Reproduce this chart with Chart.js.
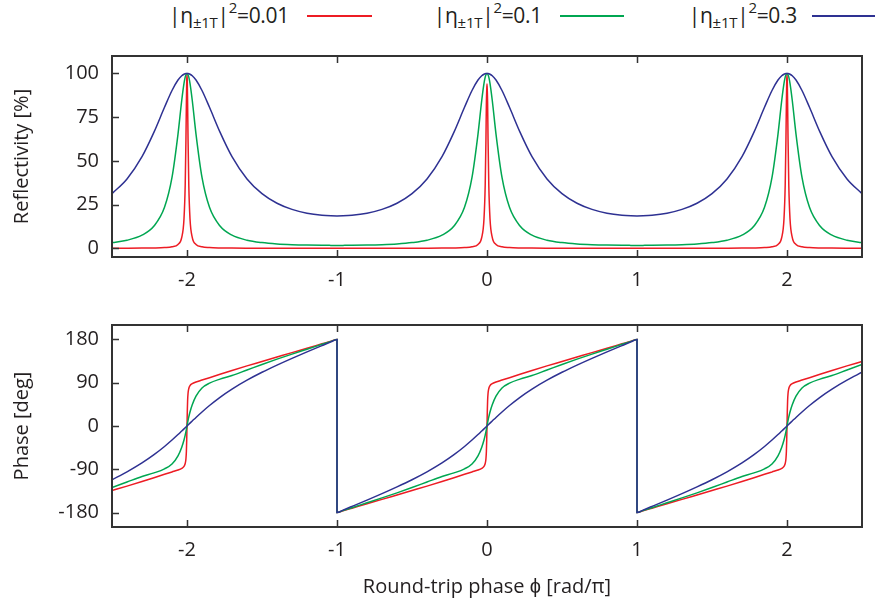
<!DOCTYPE html>
<html>
<head>
<meta charset="utf-8">
<script src="https://cdn.jsdelivr.net/npm/chart.js@4.4.1/dist/chart.umd.min.js"></script>
<style>
  body { margin: 0; background: #fff; }
  #wrap { position: relative; width: 875px; height: 607px; font-family: "Open Sans", sans-serif; color: #231f20; }
  #topChart { position: absolute; left: 0; top: 0; }
  #botChart { position: absolute; left: 0; top: 300px; }
  .lg { position: absolute; top: 0; font-size: 21px; line-height: 30px; white-space: nowrap; letter-spacing: -0.3px; }
  .lg sub { font-size: 15px; vertical-align: -5px; line-height: 0; }
  .lg sup { font-size: 15px; vertical-align: 10px; line-height: 0; }
  .ln { position: absolute; top: 15px; height: 1.5px; }
</style>
</head>
<body>
<div id="wrap">
  <div class="lg" style="right:586px">|η<sub>±1T</sub>|<sup>2</sup>=0.01</div>
  <div class="ln" style="left:307px;width:65px;background:#ed1c24"></div>
  <div class="lg" style="right:333px">|η<sub>±1T</sub>|<sup>2</sup>=0.1</div>
  <div class="ln" style="left:560px;width:64px;background:#00a651"></div>
  <div class="lg" style="right:78px">|η<sub>±1T</sub>|<sup>2</sup>=0.3</div>
  <div class="ln" style="left:812px;width:63px;background:#2e3192"></div>
  <canvas id="topChart" width="875" height="300"></canvas>
  <canvas id="botChart" width="875" height="307"></canvas>
</div>
<script>
// round-trip phase (rad/pi); the wrap points at -1 and 1 appear twice
const phi = [
  -2.5, -2.4, -2.3, -2.22, -2.15, -2.1, -2.06, -2.035, -2.02, -2.012, -2.007, -2.004, -2.002, -2,
  -1.998, -1.996, -1.993, -1.988, -1.98, -1.965, -1.94, -1.9, -1.85, -1.78, -1.7, -1.6, -1.5, -1.4, -1.3, -1.2, -1.1, -1.04, -1,
  -1,
  -0.96, -0.9, -0.8, -0.7, -0.6, -0.5, -0.4, -0.3, -0.22, -0.15, -0.1, -0.06, -0.035, -0.02, -0.012, -0.007, -0.004, -0.002, 0,
  0.002, 0.004, 0.007, 0.012, 0.02, 0.035, 0.06, 0.1, 0.15, 0.22, 0.3, 0.4, 0.5, 0.6, 0.7, 0.8, 0.9, 0.96, 1,
  1,
  1.04, 1.1, 1.2, 1.3, 1.4, 1.5, 1.6, 1.7, 1.78, 1.85, 1.9, 1.94, 1.965, 1.98, 1.988, 1.993, 1.996, 1.998, 2,
  2.002, 2.004, 2.007, 2.012, 2.02, 2.035, 2.06, 2.1, 2.15, 2.22, 2.3, 2.4, 2.5
];

const reflRed = [
  0.04, 0.06, 0.1, 0.17, 0.37, 0.81, 2.2, 6.2, 16.9, 36, 62.3, 83.5, 95.3, 100,
  95.3, 83.5, 62.3, 36, 16.9, 6.2, 2.2, 0.81, 0.37, 0.17, 0.1, 0.06, 0.04, 0.03, 0.03, 0.02, 0.02, 0.02, 0.02,
  0.02,
  0.02, 0.02, 0.02, 0.03, 0.03, 0.04, 0.06, 0.1, 0.17, 0.37, 0.81, 2.2, 6.2, 16.9, 36, 62.3, 83.5, 90, 94,
  90, 83.5, 62.3, 36, 16.9, 6.2, 2.2, 0.81, 0.37, 0.17, 0.1, 0.06, 0.04, 0.03, 0.03, 0.02, 0.02, 0.02, 0.02,
  0.02,
  0.02, 0.02, 0.02, 0.03, 0.03, 0.04, 0.06, 0.1, 0.17, 0.37, 0.81, 2.2, 6.2, 16.9, 36, 62.3, 83.5, 95.3, 100,
  95.3, 83.5, 62.3, 36, 16.9, 6.2, 2.2, 0.81, 0.37, 0.17, 0.1, 0.06, 0.04
];
const reflGreen = [
  3.23, 4.6, 7.48, 12.7, 23.4, 40.5, 65.3, 84.7, 94.4, 97.9, 99.28, 99.76, 99.94, 100,
  99.94, 99.76, 99.28, 97.9, 94.4, 84.7, 65.3, 40.5, 23.4, 12.7, 7.48, 4.6, 3.23, 2.48, 2.06, 1.81, 1.68, 1.65, 1.64,
  1.64,
  1.65, 1.68, 1.81, 2.06, 2.48, 3.23, 4.6, 7.48, 12.7, 23.4, 40.5, 65.3, 84.7, 94.4, 97.9, 99.28, 99.76, 99.94, 100,
  99.94, 99.76, 99.28, 97.9, 94.4, 84.7, 65.3, 40.5, 23.4, 12.7, 7.48, 4.6, 3.23, 2.48, 2.06, 1.81, 1.68, 1.65, 1.64,
  1.64,
  1.65, 1.68, 1.81, 2.06, 2.48, 3.23, 4.6, 7.48, 12.7, 23.4, 40.5, 65.3, 84.7, 94.4, 97.9, 99.28, 99.76, 99.94, 100,
  99.94, 99.76, 99.28, 97.9, 94.4, 84.7, 65.3, 40.5, 23.4, 12.7, 7.48, 4.6, 3.23
];
const reflBlue = [
  31.25, 39.68, 52.44, 66.45, 80.66, 90.28, 96.25, 98.69, 99.57, 99.84, 99.95, 99.98, 100, 100,
  100, 99.98, 99.95, 99.84, 99.57, 98.69, 96.25, 90.28, 80.66, 66.45, 52.44, 39.68, 31.25, 25.77, 22.26, 20.08, 18.9, 18.58, 18.52,
  18.52,
  18.58, 18.9, 20.08, 22.26, 25.77, 31.25, 39.68, 52.44, 66.45, 80.66, 90.28, 96.25, 98.69, 99.57, 99.84, 99.95, 99.98, 100, 100,
  100, 99.98, 99.95, 99.84, 99.57, 98.69, 96.25, 90.28, 80.66, 66.45, 52.44, 39.68, 31.25, 25.77, 22.26, 20.08, 18.9, 18.58, 18.52,
  18.52,
  18.58, 18.9, 20.08, 22.26, 25.77, 31.25, 39.68, 52.44, 66.45, 80.66, 90.28, 96.25, 98.69, 99.57, 99.84, 99.95, 99.98, 100, 100,
  100, 99.98, 99.95, 99.84, 99.57, 98.69, 96.25, 90.28, 80.66, 66.45, 52.44, 39.68, 31.25
];

const phaseRed = [
  -134.2, -125, -115.5, -107.5, -100.5, -95.5, -91.5, -88, -84, -78, -68, -52, -30, 0,
  30, 52, 68, 78, 84, 88, 91.5, 95.5, 100.5, 107.5, 115.5, 125, 134.2, 143.4, 152.6, 161.7, 170.9, 176.4, 180,
  -180,
  -176.4, -170.9, -161.7, -152.6, -143.4, -134.2, -125, -115.5, -107.5, -100.5, -95.5, -91.5, -88, -84, -78, -68, -52, -30, 0,
  30, 52, 68, 78, 84, 88, 91.5, 95.5, 100.5, 107.5, 115.5, 125, 134.2, 143.4, 152.6, 161.7, 170.9, 176.4, 180,
  -180,
  -176.4, -170.9, -161.7, -152.6, -143.4, -134.2, -125, -115.5, -107.5, -100.5, -95.5, -91.5, -88, -84, -78, -68, -52, -30, 0,
  30, 52, 68, 78, 84, 88, 91.5, 95.5, 100.5, 107.5, 115.5, 125, 134.2
];
const phaseGreen = [
  -128, -116.5, -105, -97.5, -89, -79, -62, -44, -29, -19, -12, -7, -4, 0,
  4, 7, 12, 19, 29, 44, 62, 79, 89, 97.5, 105, 116.5, 128, 139, 149.5, 159.7, 169.8, 176, 180,
  -180,
  -176, -169.8, -159.7, -149.5, -139, -128, -116.5, -105, -97.5, -89, -79, -62, -44, -29, -19, -12, -7, -4, 0,
  4, 7, 12, 19, 29, 44, 62, 79, 89, 97.5, 105, 116.5, 128, 139, 149.5, 159.7, 169.8, 176, 180,
  -180,
  -176, -169.8, -159.7, -149.5, -139, -128, -116.5, -105, -97.5, -89, -79, -62, -44, -29, -19, -12, -7, -4, 0,
  4, 7, 12, 19, 29, 44, 62, 79, 89, 97.5, 105, 116.5, 128
];
const phaseBlue = [
  -111.7, -95.3, -76.8, -59.7, -42.6, -29.2, -17.8, -10.4, -6, -3.6, -2.1, -1.2, -0.6, 0,
  0.6, 1.2, 2.1, 3.6, 6, 10.4, 17.8, 29.2, 42.6, 59.7, 76.8, 95.3, 111.7, 126.6, 140.6, 154, 167.1, 174.9, 180,
  -180,
  -174.9, -167.1, -154, -140.6, -126.6, -111.7, -95.3, -76.8, -59.7, -42.6, -29.2, -17.8, -10.4, -6, -3.6, -2.1, -1.2, -0.6, 0,
  0.6, 1.2, 2.1, 3.6, 6, 10.4, 17.8, 29.2, 42.6, 59.7, 76.8, 95.3, 111.7, 126.6, 140.6, 154, 167.1, 174.9, 180,
  -180,
  -174.9, -167.1, -154, -140.6, -126.6, -111.7, -95.3, -76.8, -59.7, -42.6, -29.2, -17.8, -10.4, -6, -3.6, -2.1, -1.2, -0.6, 0,
  0.6, 1.2, 2.1, 3.6, 6, 10.4, 17.8, 29.2, 42.6, 59.7, 76.8, 95.3, 111.7
];

const xTicks = [-2, -1, 0, 1, 2];
const reflTicks = [0, 25, 50, 75, 100];
const phaseTicks = [-180, -90, 0, 90, 180];

const RED = '#ed1c24', GREEN = '#00a651', BLUE = '#2e3192';
const TEXT = '#231f20';
const font = { family: '"Open Sans", sans-serif', size: 20 };

// gnuplot-like frame with inward tick marks
const framePlugin = {
  id: 'frame',
  afterDraw(chart) {
    const { ctx, chartArea: a, scales } = chart;
    ctx.save();
    ctx.strokeStyle = '#333';
    ctx.lineWidth = 1.5;
    ctx.beginPath();
    scales.x.ticks.forEach(t => {
      const px = Math.round(scales.x.getPixelForValue(t.value)) + 0.5;
      ctx.moveTo(px, a.bottom); ctx.lineTo(px, a.bottom - 7);
      ctx.moveTo(px, a.top); ctx.lineTo(px, a.top + 7);
    });
    scales.y.ticks.forEach(t => {
      const py = Math.round(scales.y.getPixelForValue(t.value)) + 0.5;
      ctx.moveTo(a.left, py); ctx.lineTo(a.left + 7, py);
    });
    ctx.stroke();
    ctx.lineWidth = 2;
    ctx.strokeRect(a.left, a.top, a.right - a.left, a.bottom - a.top);
    ctx.restore();
  }
};

function series(ys, color) {
  return {
    data: phi.map((x, i) => ({ x: x, y: ys[i] })),
    borderColor: color,
    borderWidth: 1.5,
    pointRadius: 0,
    cubicInterpolationMode: 'monotone',
    fill: false
  };
}

function makeChart(id, sets, yMin, yMax, yTicks, yTitle, pad, xHeight, xTitle) {
  return new Chart(document.getElementById(id), {
    type: 'line',
    data: { datasets: sets },
    options: {
      responsive: false,
      animation: false,
      layout: { padding: pad },
      plugins: { legend: { display: false }, tooltip: { enabled: false } },
      scales: {
        x: {
          type: 'linear', min: -2.5, max: 2.5,
          afterBuildTicks: s => { s.ticks = xTicks.map(v => ({ value: v })); },
          afterFit: s => { s.height = xHeight; },
          grid: { display: false, drawTicks: false },
          border: { display: false },
          ticks: { font: font, color: TEXT, padding: 11, maxRotation: 0, autoSkip: false, callback: v => String(v) },
          title: { display: !!xTitle, text: xTitle, font: font, color: TEXT, padding: { top: 8, bottom: 8 } }
        },
        y: {
          min: yMin, max: yMax,
          afterBuildTicks: s => { s.ticks = yTicks.map(v => ({ value: v })); },
          afterFit: s => { s.width = 112; },
          grid: { display: false, drawTicks: false },
          border: { display: false },
          ticks: { font: font, color: TEXT, padding: 13, callback: v => String(v) },
          title: { display: true, text: yTitle, font: font, color: TEXT, padding: { top: 10, bottom: 0 } }
        }
      }
    },
    plugins: [framePlugin]
  });
}

// blue first so it is drawn on top, as in the original
makeChart('topChart',
  [series(reflBlue, BLUE), series(reflGreen, GREEN), series(reflRed, RED)],
  -5, 110, reflTicks, 'Reflectivity [%]',
  { top: 56, right: 13, left: 0, bottom: 0 }, 43, '');

makeChart('botChart',
  [series(phaseBlue, BLUE), series(phaseGreen, GREEN), series(phaseRed, RED)],
  -210, 210, phaseTicks, 'Phase [deg]',
  { top: 25, right: 13, left: 0, bottom: 0 }, 80, 'Round-trip phase ϕ [rad/π]');
</script>
</body>
</html>
